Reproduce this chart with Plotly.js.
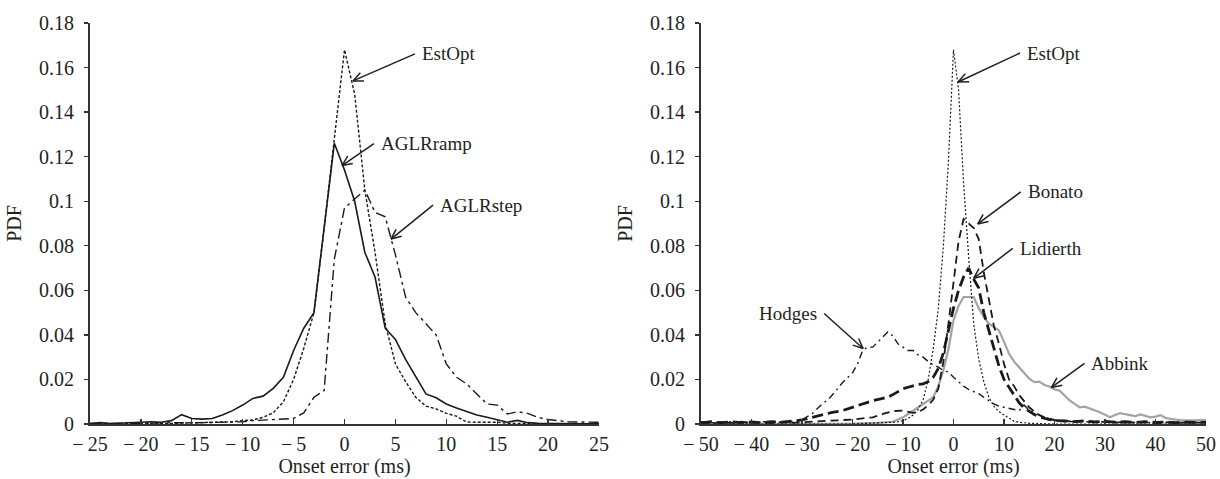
<!DOCTYPE html>
<html>
<head>
<meta charset="utf-8">
<script src="https://cdn.plot.ly/plotly-3.0.1.min.js"></script>
<style>
  html, body { margin: 0; padding: 0; background: #ffffff; }
  #chart { width: 1220px; height: 479px; }
</style>
</head>
<body>
<div id="chart"></div>
<script>
// ---------- Left panel: onset error PDFs (ms), 1 ms bins ----------
const errLeft = [-25,-24,-23,-22,-21,-20,-19,-18,-17,-16,-15,-14,-13,-12,-11,-10,-9,-8,-7,-6,-5,-4,-3,-2,-1,
  0,1,2,3,4,5,6,7,8,9,10,11,12,13,14,15,16,17,18,19,20,21,22,23,24,25];

const estOptLeft = [0,0,0,0,0,0,0,0.0002,0.0003,0.0004,0.0005,0.0005,0.0007,0.0008,0.001,0.0015,0.0018,0.003,0.005,0.01,0.02,0.034,0.05,0.088,0.127,
  0.168,0.148,0.105,0.077,0.045,0.027,0.019,0.012,0.008,0.0068,0.0048,0.0035,0.0009,0.0008,0.0008,0.0008,0.0003,0.0002,0.0001,0,0,0,0,0,0,0];

const aglrRamp = [0.0002,0.0006,0.0002,0.0003,0.0006,0.0008,0.001,0.0008,0.0015,0.0042,0.0025,0.0022,0.0025,0.004,0.006,0.0085,0.0115,0.0125,0.016,0.021,0.033,0.043,0.05,0.088,0.126,
  0.114,0.1,0.077,0.066,0.043,0.038,0.029,0.021,0.0135,0.0118,0.009,0.0072,0.0055,0.004,0.003,0.0018,0.0008,0.0016,0.0006,0.0003,0.0002,0.0002,0.0001,0.0001,0.0001,0.0002];

const aglrStep = [0.0003,0.0002,0.0002,0.0003,0.0003,0.0004,0.0003,0.0004,0.0005,0.0006,0.0005,0.0006,0.0005,0.0008,0.0008,0.001,0.0015,0.0018,0.002,0.0022,0.0025,0.005,0.012,0.015,0.074,
  0.097,0.101,0.105,0.095,0.093,0.076,0.057,0.05,0.045,0.04,0.027,0.021,0.018,0.0135,0.009,0.0085,0.0045,0.0055,0.0048,0.003,0.002,0.0015,0.001,0.0009,0.0008,0.0008];

// ---------- Right panel: comparison with other detectors ----------
const errEstOptRight = [-50,-30,-20,-15,-14,-13,-12,-11,-10,-9,-8,-7,-6,-5,-4,-3,-2,-1,0,1,2,3,4,5,6,7,8,9,10,11,12,13,14,15,20,30,50];
const estOptRight = [0,0,0,0.0005,0.0005,0.0007,0.0008,0.001,0.0015,0.0025,0.004,0.0065,0.011,0.02,0.034,0.052,0.08,0.118,
  0.168,0.15,0.108,0.075,0.045,0.029,0.019,0.012,0.008,0.0055,0.004,0.0025,0.0012,0.0008,0.0005,0.0003,0,0,0];

const errHodges = [-50,-47,-44,-41,-38,-35,-32,-30,-28,-26,-25,-24,-22,-20,-19,-18,-17,-16,-15,-14,-13,-12,-11,-10,-9,-8,-7,-6,-5,-4,-3,-2,-1,
  0,1,2,3,4,5,6,7,8,9,10,11,12,13,14,15,16,17,18,19,20,22,25,28,31,34,37,40,43,46,50];
const hodges = [0.001,0.0005,0.001,0.0005,0.001,0.0008,0.001,0.002,0.0046,0.009,0.0106,0.013,0.0185,0.023,0.027,0.033,0.0345,0.0345,0.0368,0.039,0.0413,0.0395,0.036,0.0345,0.033,0.033,0.031,0.03,0.028,0.0265,0.0255,0.024,0.0233,
  0.021,0.019,0.017,0.0155,0.0145,0.0136,0.012,0.0105,0.009,0.008,0.0075,0.007,0.0065,0.006,0.0085,0.006,0.005,0.004,0.003,0.0024,0.0015,0.001,0.0012,0.0008,0.001,0.0006,0.0008,0.0005,0.0007,0.0005,0.0005];

const errBonato = [-50,-48,-46,-44,-42,-40,-38,-36,-34,-32,-30,-28,-26,-24,-22,-20,-18,-16,-14,-12,-10,-9,-8,-7,-6,-5,-4,-3,-2,-1,
  0,1,2,3,4,5,6,7,8,9,10,11,12,13,14,15,16,17,18,19,20,22,24,26,28,30,32,34,36,38,40,42,44,46,48,50];
const bonato = [0.0008,0.0003,0.0008,0.0005,0.001,0.0005,0.0008,0.0004,0.0008,0.0005,0.0008,0.001,0.0012,0.0015,0.0018,0.002,0.0025,0.003,0.0045,0.0058,0.006,0.0055,0.005,0.0055,0.0065,0.0085,0.011,0.016,0.028,0.045,
  0.063,0.082,0.092,0.09,0.088,0.083,0.068,0.056,0.044,0.036,0.027,0.02,0.017,0.013,0.01,0.0075,0.0055,0.004,0.003,0.0025,0.0018,0.0015,0.001,0.0012,0.0008,0.001,0.0006,0.0009,0.0006,0.0008,0.0005,0.0008,0.0005,0.0007,0.0005,0.0006];

const errLidierth = [-50,-48,-46,-44,-42,-40,-38,-36,-34,-32,-30,-28,-26,-24,-22,-20,-18,-16,-14,-13,-12,-11,-10,-9,-8,-7,-6,-5,-4,-3,-2,-1,
  0,1,2,3,4,5,6,7,8,9,10,11,12,13,14,15,16,17,18,19,20,22,24,26,28,30,32,34,36,38,40,42,44,46,48,50];
const lidierth = [0.0005,0.001,0.0006,0.001,0.0006,0.0009,0.0006,0.001,0.0008,0.0012,0.0018,0.003,0.0042,0.0052,0.006,0.0075,0.009,0.0105,0.0115,0.012,0.0132,0.0145,0.0158,0.0165,0.0172,0.0178,0.018,0.019,0.021,0.025,0.032,0.042,
  0.052,0.06,0.066,0.07,0.065,0.061,0.05,0.042,0.034,0.026,0.02,0.0165,0.0125,0.0095,0.0072,0.0055,0.0042,0.0032,0.0025,0.002,0.0016,0.0013,0.0011,0.0014,0.0009,0.0012,0.0008,0.001,0.0007,0.001,0.0007,0.0009,0.0006,0.0008,0.0006,0.0007];

const errAbbink = [-50,-30,-20,-15,-12,-11,-10,-9,-8,-7,-6,-5,-4,-3,-2,-1,
  0,1,2,3,4,5,6,7,8,9,10,11,12,13,14,15,16,17,18,19,20,21,22,23,24,25,26,27,28,29,30,31,32,33,34,35,36,37,38,39,40,41,42,43,44,45,46,47,48,49,50];
const abbink = [0,0,0.0002,0.0005,0.001,0.002,0.003,0.0045,0.006,0.0075,0.009,0.0106,0.012,0.017,0.024,0.0335,
  0.0465,0.053,0.057,0.057,0.057,0.052,0.048,0.045,0.0435,0.042,0.037,0.0315,0.028,0.0255,0.023,0.0203,0.0188,0.019,0.0175,0.0168,0.0155,0.015,0.0128,0.0106,0.009,0.0075,0.0078,0.007,0.006,0.0053,0.0042,0.003,0.004,0.0049,0.0044,0.0038,0.0035,0.0043,0.0036,0.003,0.0033,0.004,0.0027,0.0022,0.002,0.0018,0.0017,0.0018,0.0016,0.0018,0.0017];

// ---------- Tick labels ----------
const pdfTicks = [0, 0.02, 0.04, 0.06, 0.08, 0.1, 0.12, 0.14, 0.16, 0.18];
const pdfTickText = ['0', '0.02', '0.04', '0.06', '0.08', '0.1', '0.12', '0.14', '0.16', '0.18'];
const errTicksLeft = [-25, -20, -15, -10, -5, 0, 5, 10, 15, 20, 25];
const errTickTextLeft = ['\u2212\u200925', '\u2212\u200920', '\u2212\u200915', '\u2212\u200910', '\u2212\u20095', '0', '5', '10', '15', '20', '25'];
const errTicksRight = [-50, -40, -30, -20, -10, 0, 10, 20, 30, 40, 50];
const errTickTextRight = ['\u2212\u200950', '\u2212\u200940', '\u2212\u200930', '\u2212\u200920', '\u2212\u200910', '0', '10', '20', '30', '40', '50'];

// ---------- Styling ----------
const FONT = '"Liberation Serif", "DejaVu Serif", serif';
const INK = '#231f20';
const AXIS = '#333333';
const tickFont = { family: FONT, size: 20, color: INK };

function line(x, y, xa, ya, style) {
  return { type: 'scatter', mode: 'lines', x: x, y: y, xaxis: xa, yaxis: ya,
           line: style, hoverinfo: 'skip', showlegend: false };
}

const traces = [
  line(errLeft, estOptLeft, 'x', 'y', { color: '#1a1a1a', width: 1.4, dash: '3px,2px' }),
  line(errLeft, aglrRamp, 'x', 'y', { color: '#1a1a1a', width: 1.6 }),
  line(errLeft, aglrStep, 'x', 'y', { color: '#1a1a1a', width: 1.4, dash: '10px,4px,3px,4px' }),

  line(errAbbink, abbink, 'x2', 'y2', { color: '#a3a3a3', width: 2.2 }),
  line(errHodges, hodges, 'x2', 'y2', { color: '#1a1a1a', width: 1.4, dash: '7px,4px,2px,4px' }),
  line(errLidierth, lidierth, 'x2', 'y2', { color: '#1a1a1a', width: 2.8, dash: '11px,5px' }),
  line(errBonato, bonato, 'x2', 'y2', { color: '#1a1a1a', width: 1.8, dash: '8px,5px' }),
  line(errEstOptRight, estOptRight, 'x2', 'y2', { color: '#1a1a1a', width: 1.2, dash: '2px,2px' })
];

function xAxis(domain, range, vals, text, anchor) {
  return {
    domain: domain, range: range, anchor: anchor,
    tickmode: 'array', tickvals: vals, ticktext: text,
    ticks: 'inside', ticklen: 5, tickwidth: 1.3, tickcolor: AXIS,
    showline: true, linecolor: AXIS, linewidth: 2,
    showgrid: false, zeroline: false, fixedrange: true,
    tickfont: tickFont, ticklabelstandoff: 1,
    title: { text: 'Onset error (ms)', font: { family: FONT, size: 20, color: INK }, standoff: 4 },
    automargin: false
  };
}

function yAxis(anchor) {
  return {
    domain: [0, 1], range: [0, 0.18], anchor: anchor,
    tickmode: 'array', tickvals: pdfTicks, ticktext: pdfTickText,
    ticks: 'outside', ticklen: 4, tickwidth: 1.3, tickcolor: AXIS,
    showline: true, linecolor: AXIS, linewidth: 2,
    showgrid: false, zeroline: false, fixedrange: true,
    tickfont: tickFont, ticklabelstandoff: 6,
    title: { text: 'PDF', font: { family: FONT, size: 20, color: INK }, standoff: 12 },
    automargin: false
  };
}

// ---------- Callouts: arrow head in data units, tail offset in pixels ----------
const callouts = [
  { ax: 'x',  ay: 'y',  text: 'EstOpt',   hx: 0.83,  hy: 0.154,  dx: 62,  up: 27 },
  { ax: 'x',  ay: 'y',  text: 'AGLRramp', hx: -0.25, hy: 0.116,  dx: 32,  up: 22 },
  { ax: 'x',  ay: 'y',  text: 'AGLRstep', hx: 4.57,  hy: 0.083,  dx: 42,  up: 34 },
  { ax: 'x2', ay: 'y2', text: 'EstOpt',   hx: 0.9,   hy: 0.1535, dx: 62,  up: 29 },
  { ax: 'x2', ay: 'y2', text: 'Bonato',   hx: 4.8,   hy: 0.0898, dx: 43,  up: 32 },
  { ax: 'x2', ay: 'y2', text: 'Lidierth', hx: 4.0,   hy: 0.0654, dx: 39,  up: 30 },
  { ax: 'x2', ay: 'y2', text: 'Hodges',   hx: -17.9, hy: 0.0339, dx: -39, up: 35 },
  { ax: 'x2', ay: 'y2', text: 'Abbink',   hx: 19.4,  hy: 0.0164, dx: 33,  up: 24 }
];

const shapes = [];
const annotations = [];
callouts.forEach(function (c) {
  const len = Math.hypot(c.dx, c.up);
  const ux = c.dx / len, uy = c.up / len;
  const base = { type: 'line', xref: c.ax, yref: c.ay, xsizemode: 'pixel', ysizemode: 'pixel',
                 xanchor: c.hx, yanchor: c.hy, line: { color: INK, width: 1.5 } };
  shapes.push(Object.assign({}, base, { x0: 0, y0: 0, x1: c.dx, y1: c.up }));
  [24, -24].forEach(function (deg) {
    const t = deg * Math.PI / 180, L = 11;
    shapes.push(Object.assign({}, base, {
      x0: 0, y0: 0,
      x1: L * (ux * Math.cos(t) - uy * Math.sin(t)),
      y1: L * (ux * Math.sin(t) + uy * Math.cos(t))
    }));
  });
  const right = c.dx > 0;
  annotations.push({
    xref: c.ax, yref: c.ay, x: c.hx, y: c.hy,
    xshift: c.dx + (right ? 5 : -5), yshift: c.up,
    xanchor: right ? 'left' : 'right', yanchor: 'middle',
    text: c.text, showarrow: false,
    font: { family: FONT, size: 19, color: INK }
  });
});

const layout = {
  width: 1220, height: 479,
  margin: { l: 0, r: 0, t: 23, b: 55, pad: 0 },
  paper_bgcolor: '#ffffff', plot_bgcolor: '#ffffff',
  showlegend: false,
  xaxis: xAxis([90 / 1220, 599 / 1220], [-25, 25], errTicksLeft, errTickTextLeft, 'y'),
  yaxis: yAxis('x'),
  xaxis2: xAxis([701 / 1220, 1206 / 1220], [-50, 50], errTicksRight, errTickTextRight, 'y2'),
  yaxis2: yAxis('x2'),
  shapes: shapes,
  annotations: annotations
};

Plotly.newPlot('chart', traces, layout, { displayModeBar: false, staticPlot: true });
</script>
</body>
</html>
